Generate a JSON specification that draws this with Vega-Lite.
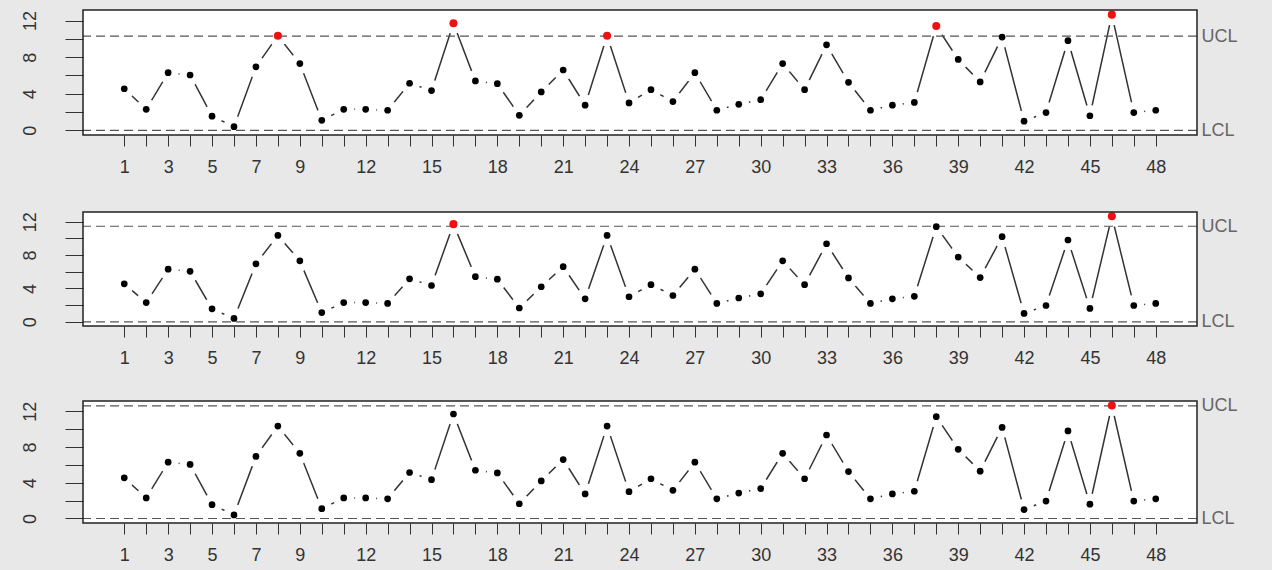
{
  "$schema": "https://vega.github.io/schema/vega-lite/v6.json",
  "background": "#e8e8e8",
  "padding": {"left": 13, "top": 9, "right": 15, "bottom": 0},
  "spacing": 29,
  "config": {
    "font": "Liberation Sans",
    "view": {"fill": "white", "stroke": null},
    "axis": {"grid": false, "domain": false, "title": null, "tickColor": "#333", "labelColor": "#333", "labelFont": "Liberation Sans"}
  },
  "datasets": {
    "pts": [
      {"n": 1, "v": 4.55}, {"n": 2, "v": 2.3}, {"n": 3, "v": 6.3}, {"n": 4, "v": 6.05},
      {"n": 5, "v": 1.55}, {"n": 6, "v": 0.4}, {"n": 7, "v": 6.95}, {"n": 8, "v": 10.35},
      {"n": 9, "v": 7.3}, {"n": 10, "v": 1.1}, {"n": 11, "v": 2.3}, {"n": 12, "v": 2.3},
      {"n": 13, "v": 2.2}, {"n": 14, "v": 5.15}, {"n": 15, "v": 4.35}, {"n": 16, "v": 11.7},
      {"n": 17, "v": 5.4}, {"n": 18, "v": 5.1}, {"n": 19, "v": 1.65}, {"n": 20, "v": 4.2},
      {"n": 21, "v": 6.6}, {"n": 22, "v": 2.75}, {"n": 23, "v": 10.35}, {"n": 24, "v": 3.0},
      {"n": 25, "v": 4.45}, {"n": 26, "v": 3.15}, {"n": 27, "v": 6.3}, {"n": 28, "v": 2.2},
      {"n": 29, "v": 2.85}, {"n": 30, "v": 3.35}, {"n": 31, "v": 7.3}, {"n": 32, "v": 4.45},
      {"n": 33, "v": 9.35}, {"n": 34, "v": 5.25}, {"n": 35, "v": 2.2}, {"n": 36, "v": 2.75},
      {"n": 37, "v": 3.05}, {"n": 38, "v": 11.4}, {"n": 39, "v": 7.75}, {"n": 40, "v": 5.3},
      {"n": 41, "v": 10.2}, {"n": 42, "v": 1.0}, {"n": 43, "v": 1.95}, {"n": 44, "v": 9.8},
      {"n": 45, "v": 1.6}, {"n": 46, "v": 12.65}, {"n": 47, "v": 1.95}, {"n": 48, "v": 2.2}
    ]
  },
  "vconcat": [
    {
      "width": 1114, "height": 125,
      "resolve": {"axis": {"y": "independent", "x": "independent"}},
      "layer": [
        {
          "data": {"name": "pts"},
          "mark": {"type": "line", "color": "#333", "strokeWidth": 1.5},
          "encoding": {
            "x": {"field": "n", "type": "quantitative", "scale": {"domain": [-0.88, 49.88], "nice": false, "zero": false},
              "axis": {"orient": "bottom", "values": [1,2,3,4,5,6,7,8,9,10,11,12,13,14,15,16,17,18,19,20,21,22,23,24,25,26,27,28,29,30,31,32,33,34,35,36,37,38,39,40,41,42,43,44,45,46,47,48],
                "labels": false, "tickSize": 11, "minExtent": 47, "maxExtent": 47}},
            "y": {"field": "v", "type": "quantitative", "scale": {"domain": [-0.506, 13.156], "nice": false, "zero": false},
              "axis": {"orient": "left", "values": [0,2,4,6,8,10,12], "labelExpr": "datum.value % 4 == 0 ? datum.label : ''",
                "labelAngle": -90, "labelAlign": "center", "labelBaseline": "bottom", "tickSize": 18, "labelFontSize": 18, "labelPadding": 26, "minExtent": 70, "maxExtent": 70}}
          }
        },
        {
          "data": {"name": "pts"},
          "mark": {"type": "point", "filled": true, "color": "white", "opacity": 1, "size": 450, "clip": true},
          "encoding": {
            "x": {"field": "n", "type": "quantitative",
              "axis": {"orient": "bottom", "values": [1,3,5,7,9,12,15,18,21,24,27,30,33,36,39,42,45,48], "ticks": false,
                "labelFontSize": 18, "labelPadding": 23, "labelFlush": false, "labelOverlap": false, "minExtent": 47, "maxExtent": 47}},
            "y": {"field": "v", "type": "quantitative", "axis": null}
          }
        },
        {
          "data": {"values": [{"lim": 10.3}, {"lim": 0}]},
          "mark": {"type": "rule", "color": "#555", "strokeDash": [9, 5], "strokeWidth": 1.2},
          "encoding": {
            "y": {"field": "lim", "type": "quantitative",
              "axis": {"orient": "right", "values": [0, 10.3], "labelExpr": "datum.value > 1 ? 'UCL' : 'LCL'", "ticks": false,
                "labelColor": "#666", "labelFontSize": 18, "labelPadding": 4, "labelBaseline": "middle", "minExtent": 60, "maxExtent": 60}}
          }
        },
        {
          "data": {"name": "pts"},
          "transform": [{"filter": "datum.v <= 10.3"}],
          "mark": {"type": "point", "filled": true, "color": "black", "opacity": 1, "size": 45},
          "encoding": {
            "x": {"field": "n", "type": "quantitative", "axis": null},
            "y": {"field": "v", "type": "quantitative", "axis": null}
          }
        },
        {
          "data": {"name": "pts"},
          "transform": [{"filter": "datum.v > 10.3"}],
          "mark": {"type": "point", "filled": true, "color": "#ee1111", "opacity": 1, "size": 65},
          "encoding": {
            "x": {"field": "n", "type": "quantitative", "axis": null},
            "y": {"field": "v", "type": "quantitative", "axis": null}
          }
        },
        {
          "data": {"values": [{}]},
          "mark": {"type": "rect", "filled": false, "stroke": "#222", "strokeWidth": 1.5},
          "encoding": {
            "x": {"datum": -0.88, "type": "quantitative", "axis": null}, "x2": {"datum": 49.88},
            "y": {"datum": -0.506, "type": "quantitative", "axis": null}, "y2": {"datum": 13.156}
          }
        }
      ]
    },
    {
      "width": 1114, "height": 114,
      "resolve": {"axis": {"y": "independent", "x": "independent"}},
      "layer": [
        {
          "data": {"name": "pts"},
          "mark": {"type": "line", "color": "#333", "strokeWidth": 1.5},
          "encoding": {
            "x": {"field": "n", "type": "quantitative", "scale": {"domain": [-0.88, 49.88], "nice": false, "zero": false},
              "axis": {"orient": "bottom", "values": [1,2,3,4,5,6,7,8,9,10,11,12,13,14,15,16,17,18,19,20,21,22,23,24,25,26,27,28,29,30,31,32,33,34,35,36,37,38,39,40,41,42,43,44,45,46,47,48],
                "labels": false, "tickSize": 11, "minExtent": 40, "maxExtent": 40}},
            "y": {"field": "v", "type": "quantitative", "scale": {"domain": [-0.506, 13.156], "nice": false, "zero": false},
              "axis": {"orient": "left", "values": [0,2,4,6,8,10,12], "labelExpr": "datum.value % 4 == 0 ? datum.label : ''",
                "labelAngle": -90, "labelAlign": "center", "labelBaseline": "bottom", "tickSize": 18, "labelFontSize": 18, "labelPadding": 26, "minExtent": 70, "maxExtent": 70}}
          }
        },
        {
          "data": {"name": "pts"},
          "mark": {"type": "point", "filled": true, "color": "white", "opacity": 1, "size": 450, "clip": true},
          "encoding": {
            "x": {"field": "n", "type": "quantitative",
              "axis": {"orient": "bottom", "values": [1,3,5,7,9,12,15,18,21,24,27,30,33,36,39,42,45,48], "ticks": false,
                "labelFontSize": 18, "labelPadding": 23, "labelFlush": false, "labelOverlap": false, "minExtent": 40, "maxExtent": 40}},
            "y": {"field": "v", "type": "quantitative", "axis": null}
          }
        },
        {
          "data": {"values": [{"lim": 11.45}, {"lim": 0}]},
          "mark": {"type": "rule", "color": "#555", "strokeDash": [9, 5], "strokeWidth": 1.2},
          "encoding": {
            "y": {"field": "lim", "type": "quantitative",
              "axis": {"orient": "right", "values": [0, 11.45], "labelExpr": "datum.value > 1 ? 'UCL' : 'LCL'", "ticks": false,
                "labelColor": "#666", "labelFontSize": 18, "labelPadding": 4, "labelBaseline": "middle", "minExtent": 60, "maxExtent": 60}}
          }
        },
        {
          "data": {"name": "pts"},
          "transform": [{"filter": "datum.v <= 11.45"}],
          "mark": {"type": "point", "filled": true, "color": "black", "opacity": 1, "size": 45},
          "encoding": {
            "x": {"field": "n", "type": "quantitative", "axis": null},
            "y": {"field": "v", "type": "quantitative", "axis": null}
          }
        },
        {
          "data": {"name": "pts"},
          "transform": [{"filter": "datum.v > 11.45"}],
          "mark": {"type": "point", "filled": true, "color": "#ee1111", "opacity": 1, "size": 65},
          "encoding": {
            "x": {"field": "n", "type": "quantitative", "axis": null},
            "y": {"field": "v", "type": "quantitative", "axis": null}
          }
        },
        {
          "data": {"values": [{}]},
          "mark": {"type": "rect", "filled": false, "stroke": "#222", "strokeWidth": 1.5},
          "encoding": {
            "x": {"datum": -0.88, "type": "quantitative", "axis": null}, "x2": {"datum": 49.88},
            "y": {"datum": -0.506, "type": "quantitative", "axis": null}, "y2": {"datum": 13.156}
          }
        }
      ]
    },
    {
      "width": 1114, "height": 122,
      "resolve": {"axis": {"y": "independent", "x": "independent"}},
      "layer": [
        {
          "data": {"name": "pts"},
          "mark": {"type": "line", "color": "#333", "strokeWidth": 1.5},
          "encoding": {
            "x": {"field": "n", "type": "quantitative", "scale": {"domain": [-0.88, 49.88], "nice": false, "zero": false},
              "axis": {"orient": "bottom", "values": [1,2,3,4,5,6,7,8,9,10,11,12,13,14,15,16,17,18,19,20,21,22,23,24,25,26,27,28,29,30,31,32,33,34,35,36,37,38,39,40,41,42,43,44,45,46,47,48],
                "labels": false, "tickSize": 11, "minExtent": 48, "maxExtent": 48}},
            "y": {"field": "v", "type": "quantitative", "scale": {"domain": [-0.506, 13.156], "nice": false, "zero": false},
              "axis": {"orient": "left", "values": [0,2,4,6,8,10,12], "labelExpr": "datum.value % 4 == 0 ? datum.label : ''",
                "labelAngle": -90, "labelAlign": "center", "labelBaseline": "bottom", "tickSize": 18, "labelFontSize": 18, "labelPadding": 26, "minExtent": 70, "maxExtent": 70}}
          }
        },
        {
          "data": {"name": "pts"},
          "mark": {"type": "point", "filled": true, "color": "white", "opacity": 1, "size": 450, "clip": true},
          "encoding": {
            "x": {"field": "n", "type": "quantitative",
              "axis": {"orient": "bottom", "values": [1,3,5,7,9,12,15,18,21,24,27,30,33,36,39,42,45,48], "ticks": false,
                "labelFontSize": 18, "labelPadding": 23, "labelFlush": false, "labelOverlap": false, "minExtent": 48, "maxExtent": 48}},
            "y": {"field": "v", "type": "quantitative", "axis": null}
          }
        },
        {
          "data": {"values": [{"lim": 12.6}, {"lim": 0}]},
          "mark": {"type": "rule", "color": "#555", "strokeDash": [9, 5], "strokeWidth": 1.2},
          "encoding": {
            "y": {"field": "lim", "type": "quantitative",
              "axis": {"orient": "right", "values": [0, 12.6], "labelExpr": "datum.value > 1 ? 'UCL' : 'LCL'", "ticks": false,
                "labelColor": "#666", "labelFontSize": 18, "labelPadding": 4, "labelBaseline": "middle", "minExtent": 60, "maxExtent": 60}}
          }
        },
        {
          "data": {"name": "pts"},
          "transform": [{"filter": "datum.v <= 12.6"}],
          "mark": {"type": "point", "filled": true, "color": "black", "opacity": 1, "size": 45},
          "encoding": {
            "x": {"field": "n", "type": "quantitative", "axis": null},
            "y": {"field": "v", "type": "quantitative", "axis": null}
          }
        },
        {
          "data": {"name": "pts"},
          "transform": [{"filter": "datum.v > 12.6"}],
          "mark": {"type": "point", "filled": true, "color": "#ee1111", "opacity": 1, "size": 65},
          "encoding": {
            "x": {"field": "n", "type": "quantitative", "axis": null},
            "y": {"field": "v", "type": "quantitative", "axis": null}
          }
        },
        {
          "data": {"values": [{}]},
          "mark": {"type": "rect", "filled": false, "stroke": "#222", "strokeWidth": 1.5},
          "encoding": {
            "x": {"datum": -0.88, "type": "quantitative", "axis": null}, "x2": {"datum": 49.88},
            "y": {"datum": -0.506, "type": "quantitative", "axis": null}, "y2": {"datum": 13.156}
          }
        }
      ]
    }
  ]
}
